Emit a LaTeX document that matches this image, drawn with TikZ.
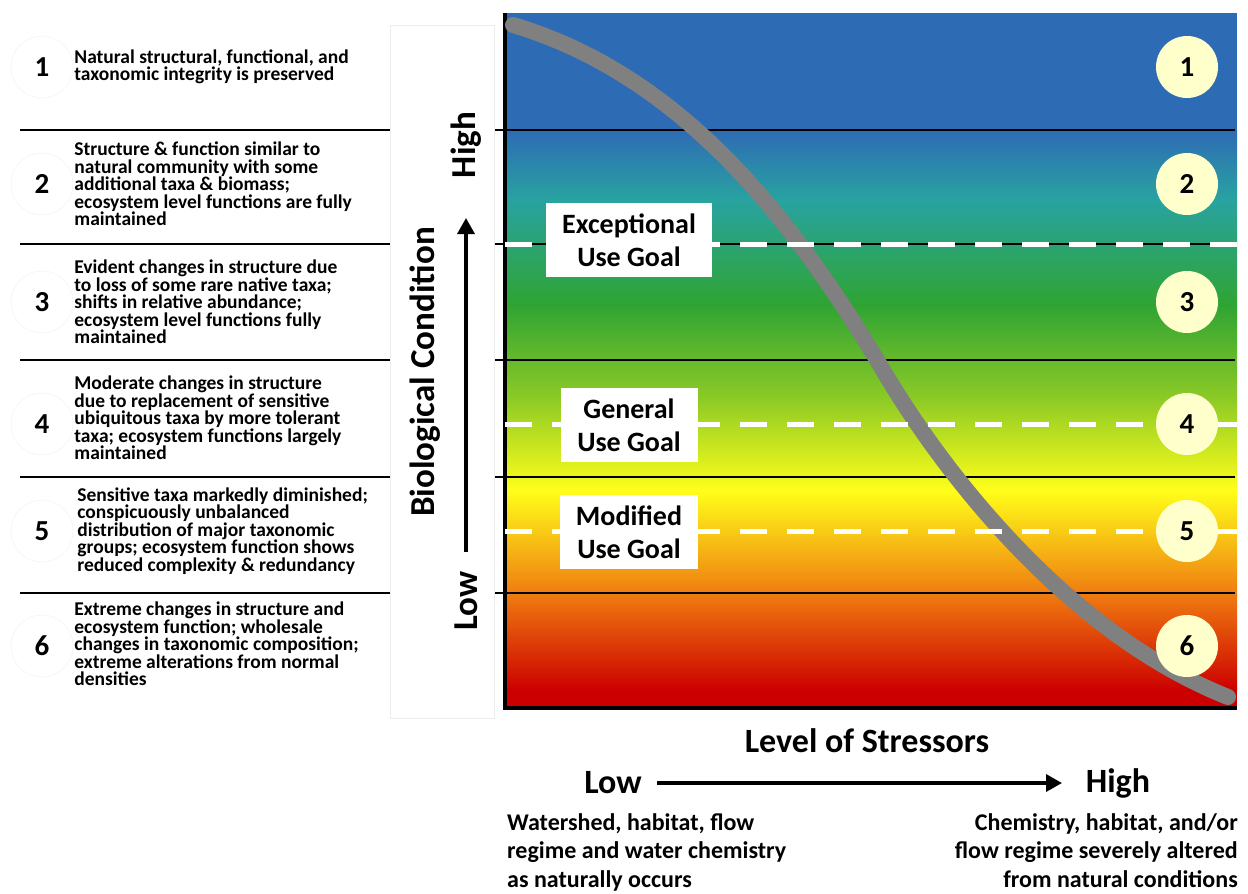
\documentclass[tikz,border=0pt]{standalone}
\usepackage{fontspec}
\setmainfont{Carlito}
\usetikzlibrary{arrows.meta,positioning}

\definecolor{bandblue}{HTML}{2E6BB5}
\definecolor{bandteal}{HTML}{28A3A0}
\definecolor{bandgreen}{HTML}{2FA433}
\definecolor{bandlime}{HTML}{8FCB25}
\definecolor{bandyellow}{HTML}{FFFF1A}
\definecolor{bandorange}{HTML}{EF7A10}
\definecolor{bandred}{HTML}{CC0000}
\definecolor{paleyellow}{HTML}{FFFFCC}
\definecolor{curvegray}{HTML}{808080}

\tikzset{
  sepline/.style={black,line width=2.5pt},
  goalline/.style={white,line width=5pt,dash pattern=on 27pt off 20pt},
  axisarrow/.style={black,line width=3.5pt,-{Triangle[length=16pt,width=17pt]}}
}

\begin{document}
\begin{tikzpicture}[x=1pt,y=-1pt,
    rownum/.style={circle,draw=gray!12,fill=white,minimum size=62pt,inner sep=0pt,
      font=\fontsize{29}{30}\selectfont\bfseries},
    levelnum/.style={circle,fill=paleyellow,minimum size=62pt,inner sep=0pt,
      font=\fontsize{29}{30}\selectfont\bfseries},
    rowtext/.style={align=left,inner sep=0pt,font=\fontsize{19.5}{17.5}\selectfont\bfseries},
    goalbox/.style={fill=white,align=center,minimum width=137pt,minimum height=74pt,
      inner xsep=16pt,font=\fontsize{28}{33}\selectfont\bfseries},
    axislabel/.style={inner sep=0pt,font=\fontsize{35}{38}\selectfont\bfseries},
    notetext/.style={inner sep=0pt,font=\fontsize{24}{28.5}\selectfont\bfseries}]
  \useasboundingbox[fill=white] (0,0) rectangle (1248,894);

  % colour bands of the condition gradient
  \fill[bandblue] (505,13) rectangle (1237,130.5);
  \shade[top color=bandblue,bottom color=bandteal] (505,130) rectangle (1237,200.5);
  \shade[top color=bandteal,bottom color=bandgreen] (505,200) rectangle (1237,305.5);
  \shade[top color=bandgreen,bottom color=bandlime] (505,305) rectangle (1237,400.5);
  \shade[top color=bandlime,bottom color=bandyellow] (505,400) rectangle (1237,490.5);
  \shade[top color=bandyellow,bottom color=bandorange] (505,490) rectangle (1237,595.5);
  \shade[top color=bandorange,bottom color=bandred] (505,595) rectangle (1237,690.5);
  \fill[bandred] (505,690) rectangle (1237,708);

  % tier separators
  \foreach \y in {130,244,360,477,593}
    \draw[sepline] (20,\y) -- (1235,\y);

  % panel behind the vertical axis title
  \fill[white,draw=gray!15] (390,25) rectangle (494,718);

  % axes
  \draw[black,line width=4pt] (505,13) -- (505,710);
  \draw[black,line width=4pt] (503,708) -- (1237,708);

  % stressor response curve
  \draw[curvegray,line width=16pt,line cap=round]
    (513,25) .. controls (680,75) and (790,215) .. (880,365)
             .. controls (935,460) and (1060,630) .. (1228,697);

  % use goal thresholds
  \foreach \y in {244,424,531}
    \draw[goalline] (505,\y) -- (1237,\y);

  \node[goalbox] (exc) at (629,240) {Exceptional\\Use Goal};
  \node[goalbox] (gen) at (629,425) {General\\Use Goal};
  \node[goalbox] (mod) at (629,532) {Modified\\Use Goal};

  % tier numbers
  \foreach \n/\y in {1/67,2/184,3/302,4/424,5/531,6/646} {
    \node[rownum] (r\n) at (42,\y) {\n};
    \node[levelnum] (c\n) at (1187,\y) {\n};
  }

  % tier descriptions
  \node[rowtext,right=1pt of r1] (t1) {Natural structural, functional, and\\taxonomic integrity is preserved};
  \node[rowtext,right=1pt of r2] (t2) {Structure \& function similar to\\natural community with some\\additional taxa \& biomass;\\ecosystem level functions are fully\\maintained};
  \node[rowtext,right=1pt of r3] (t3) {Evident changes in structure due\\to loss of some rare native taxa;\\shifts in relative abundance;\\ecosystem level functions fully\\maintained};
  \node[rowtext,right=1pt of r4,yshift=6pt] (t4) {Moderate changes in structure\\due to replacement of sensitive\\ubiquitous taxa by more tolerant\\taxa; ecosystem functions largely\\maintained};
  \node[rowtext,right=4pt of r5] (t5) {Sensitive taxa markedly diminished;\\conspicuously unbalanced\\distribution of major taxonomic\\groups; ecosystem function shows\\reduced complexity \& redundancy};
  \node[rowtext,right=1pt of r6,yshift=2pt] (t6) {Extreme changes in structure and\\ecosystem function; wholesale\\changes in taxonomic composition;\\extreme alterations from normal\\densities};

  % vertical axis
  \node[axislabel,rotate=90] (ytitle) at (425,372) {Biological Condition};
  \node[axislabel,rotate=90] (yhigh) at (466,145) {High};
  \node[axislabel,rotate=90] (ylow) at (466,601) {Low};
  \draw[axisarrow,shorten <=49pt,shorten >=73pt] (ylow.center) -- (yhigh.center);

  % horizontal axis
  \node[axislabel,font=\fontsize{34}{36}\selectfont\bfseries] (xtitle) at (867,741) {Level of Stressors};
  \node[axislabel,font=\fontsize{34}{36}\selectfont\bfseries] (xlow) at (613,783) {Low};
  \node[axislabel,font=\fontsize{34}{36}\selectfont\bfseries] (xhigh) at (1118,783) {High};
  \draw[axisarrow,shorten <=44pt,shorten >=56pt] (xlow.center) -- (xhigh.center);

  \node[notetext,anchor=north west,align=left] (lownote) at (507,813)
    {Watershed, habitat, flow\\regime and water chemistry\\as naturally occurs};
  \node[notetext,anchor=north east,align=right] (highnote) at (1238,813)
    {Chemistry, habitat, and/or\\flow regime severely altered\\from natural conditions};
\end{tikzpicture}
\end{document}
